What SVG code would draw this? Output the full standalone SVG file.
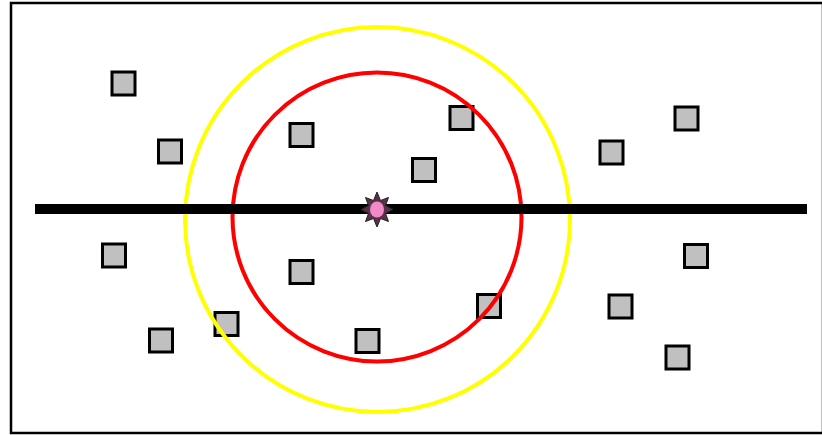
<svg xmlns="http://www.w3.org/2000/svg" width="822" height="435" viewBox="0 0 822 435">
<style>
.sq{fill:#c0c0c0;stroke:#000;stroke-width:3}
.ring{fill:none;stroke-width:4}
</style>
<rect x="0" y="0" width="822" height="435" fill="#fff"/>
<rect x="11" y="3" width="812" height="430" fill="#fff" stroke="#000" stroke-width="2.5"/>
<g id="squares">
<rect id="n1" class="sq" x="112" y="72" width="23" height="23"/>
<rect id="n2" class="sq" x="158.5" y="140" width="23" height="23"/>
<rect id="n3" class="sq" x="290" y="123.5" width="23" height="23"/>
<rect id="n4" class="sq" x="450" y="106.5" width="23" height="23"/>
<rect id="n5" class="sq" x="412.5" y="158.5" width="23" height="23"/>
<rect id="n6" class="sq" x="600" y="141" width="23" height="23"/>
<rect id="n7" class="sq" x="675" y="107" width="23" height="23"/>
<rect id="n8" class="sq" x="102.5" y="244" width="23" height="23"/>
<rect id="n9" class="sq" x="149.5" y="329" width="23" height="23"/>
<rect id="n10" class="sq" x="215" y="312.5" width="23" height="23"/>
<rect id="n11" class="sq" x="290" y="260.5" width="23" height="23"/>
<rect id="n12" class="sq" x="356" y="329.5" width="23" height="23"/>
<rect id="n13" class="sq" x="477.5" y="294.5" width="23" height="23"/>
<rect id="n14" class="sq" x="609" y="295" width="23" height="23"/>
<rect id="n15" class="sq" x="684.5" y="244.5" width="23" height="23"/>
<rect id="n16" class="sq" x="666" y="346" width="23" height="23"/>
</g>
<g id="rings">
<circle cx="377.5" cy="219.5" r="192.5" class="ring" stroke="#ffff00"/>
<circle cx="377" cy="217" r="144.5" class="ring" stroke="#ff0000"/>
</g>
<g id="connectors">
<line x1="35" y1="209" x2="807" y2="209" stroke="#000" stroke-width="10"/>
</g>
<g id="center">
<polygon points="377,192 380.5,200.5 388.5,197.5 385.5,205.5 393,209.5 385.5,213.5 388.5,221.5 380.5,218.5 377,227 373.5,218.5 365.5,221.5 368.5,213.5 361,209.5 368.5,205.5 365.5,197.5 373.5,200.5" fill="#5a3048" stroke="#222" stroke-width="1"/>
<ellipse cx="377" cy="209.5" rx="7" ry="8" fill="#f38ac8"/>
</g>
</svg>
